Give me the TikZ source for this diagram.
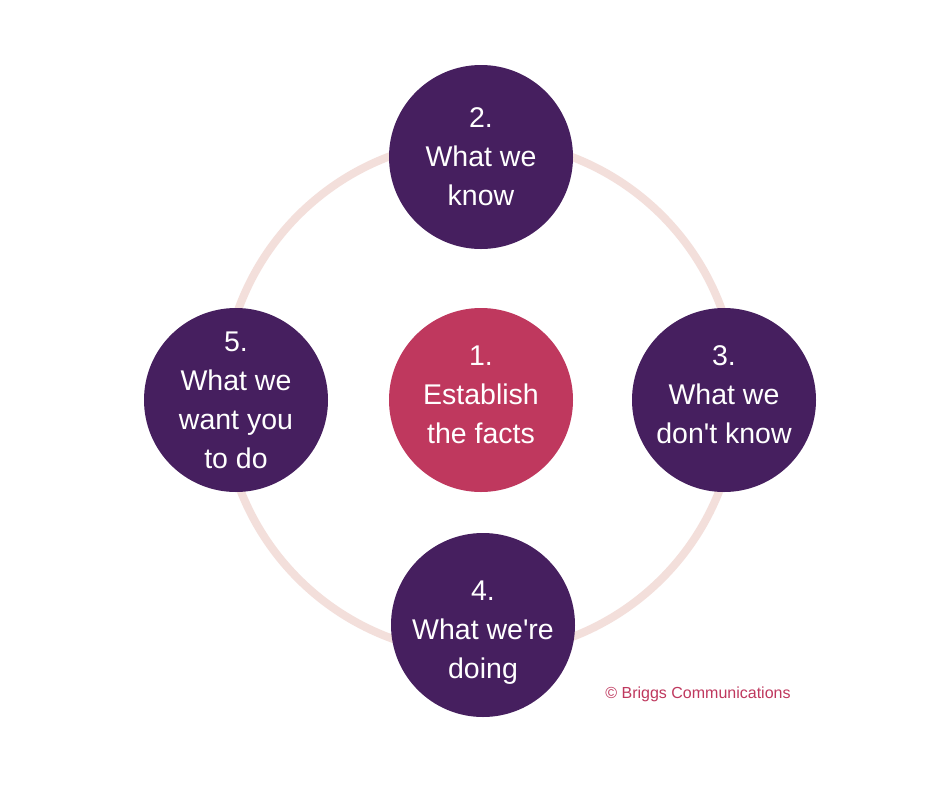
\documentclass[tikz,border=0pt]{standalone}
\usepackage{fontspec}
\setmainfont{Liberation Sans}[Ligatures=TeXOff]
\definecolor{ringc}{HTML}{F3DFDB}
\definecolor{purp}{HTML}{461F5F}
\definecolor{crim}{HTML}{BF385E}
\begin{document}
\begin{tikzpicture}[x=1pt,y=-1pt,
  bubble/.style={circle,fill=purp,minimum size=184pt,inner sep=0pt},
  core/.style={bubble,fill=crim},
  txt/.style={text=white,align=center,inner sep=0pt,font=\fontsize{28.5}{39}\selectfont}]
\useasboundingbox[fill=white] (0,0) rectangle (940,788);
\coordinate (ringc) at (480,397);
\draw[ringc,line width=8pt] (ringc) circle[radius=257pt];
\node[core] (n1) at (481,400) {};
\node[bubble] (n2) at (481,157) {};
\node[bubble] (n3) at (724,400) {};
\node[bubble] (n4) at (483,625) {};
\node[bubble] (n5) at (236,400) {};
\node[txt] (t1) at ([yshift=5pt]n1.center) {1.\\Establish\\the facts};
\node[txt] (t2) at (n2.center) {2.\\What we\\know};
\node[txt] (t3) at ([yshift=5pt]n3.center) {3.\\What we\\don't know};
\node[txt] (t4) at ([yshift=-8pt]n4.center) {4.\\What we're\\doing};
\node[txt] (t5) at (n5.center) {5.\\What we\\want you\\to do};
\node[text=crim,font=\fontsize{16}{19}\selectfont,inner sep=0pt] (copy) at (698,694) {© Briggs Communications};
\end{tikzpicture}
\end{document}
